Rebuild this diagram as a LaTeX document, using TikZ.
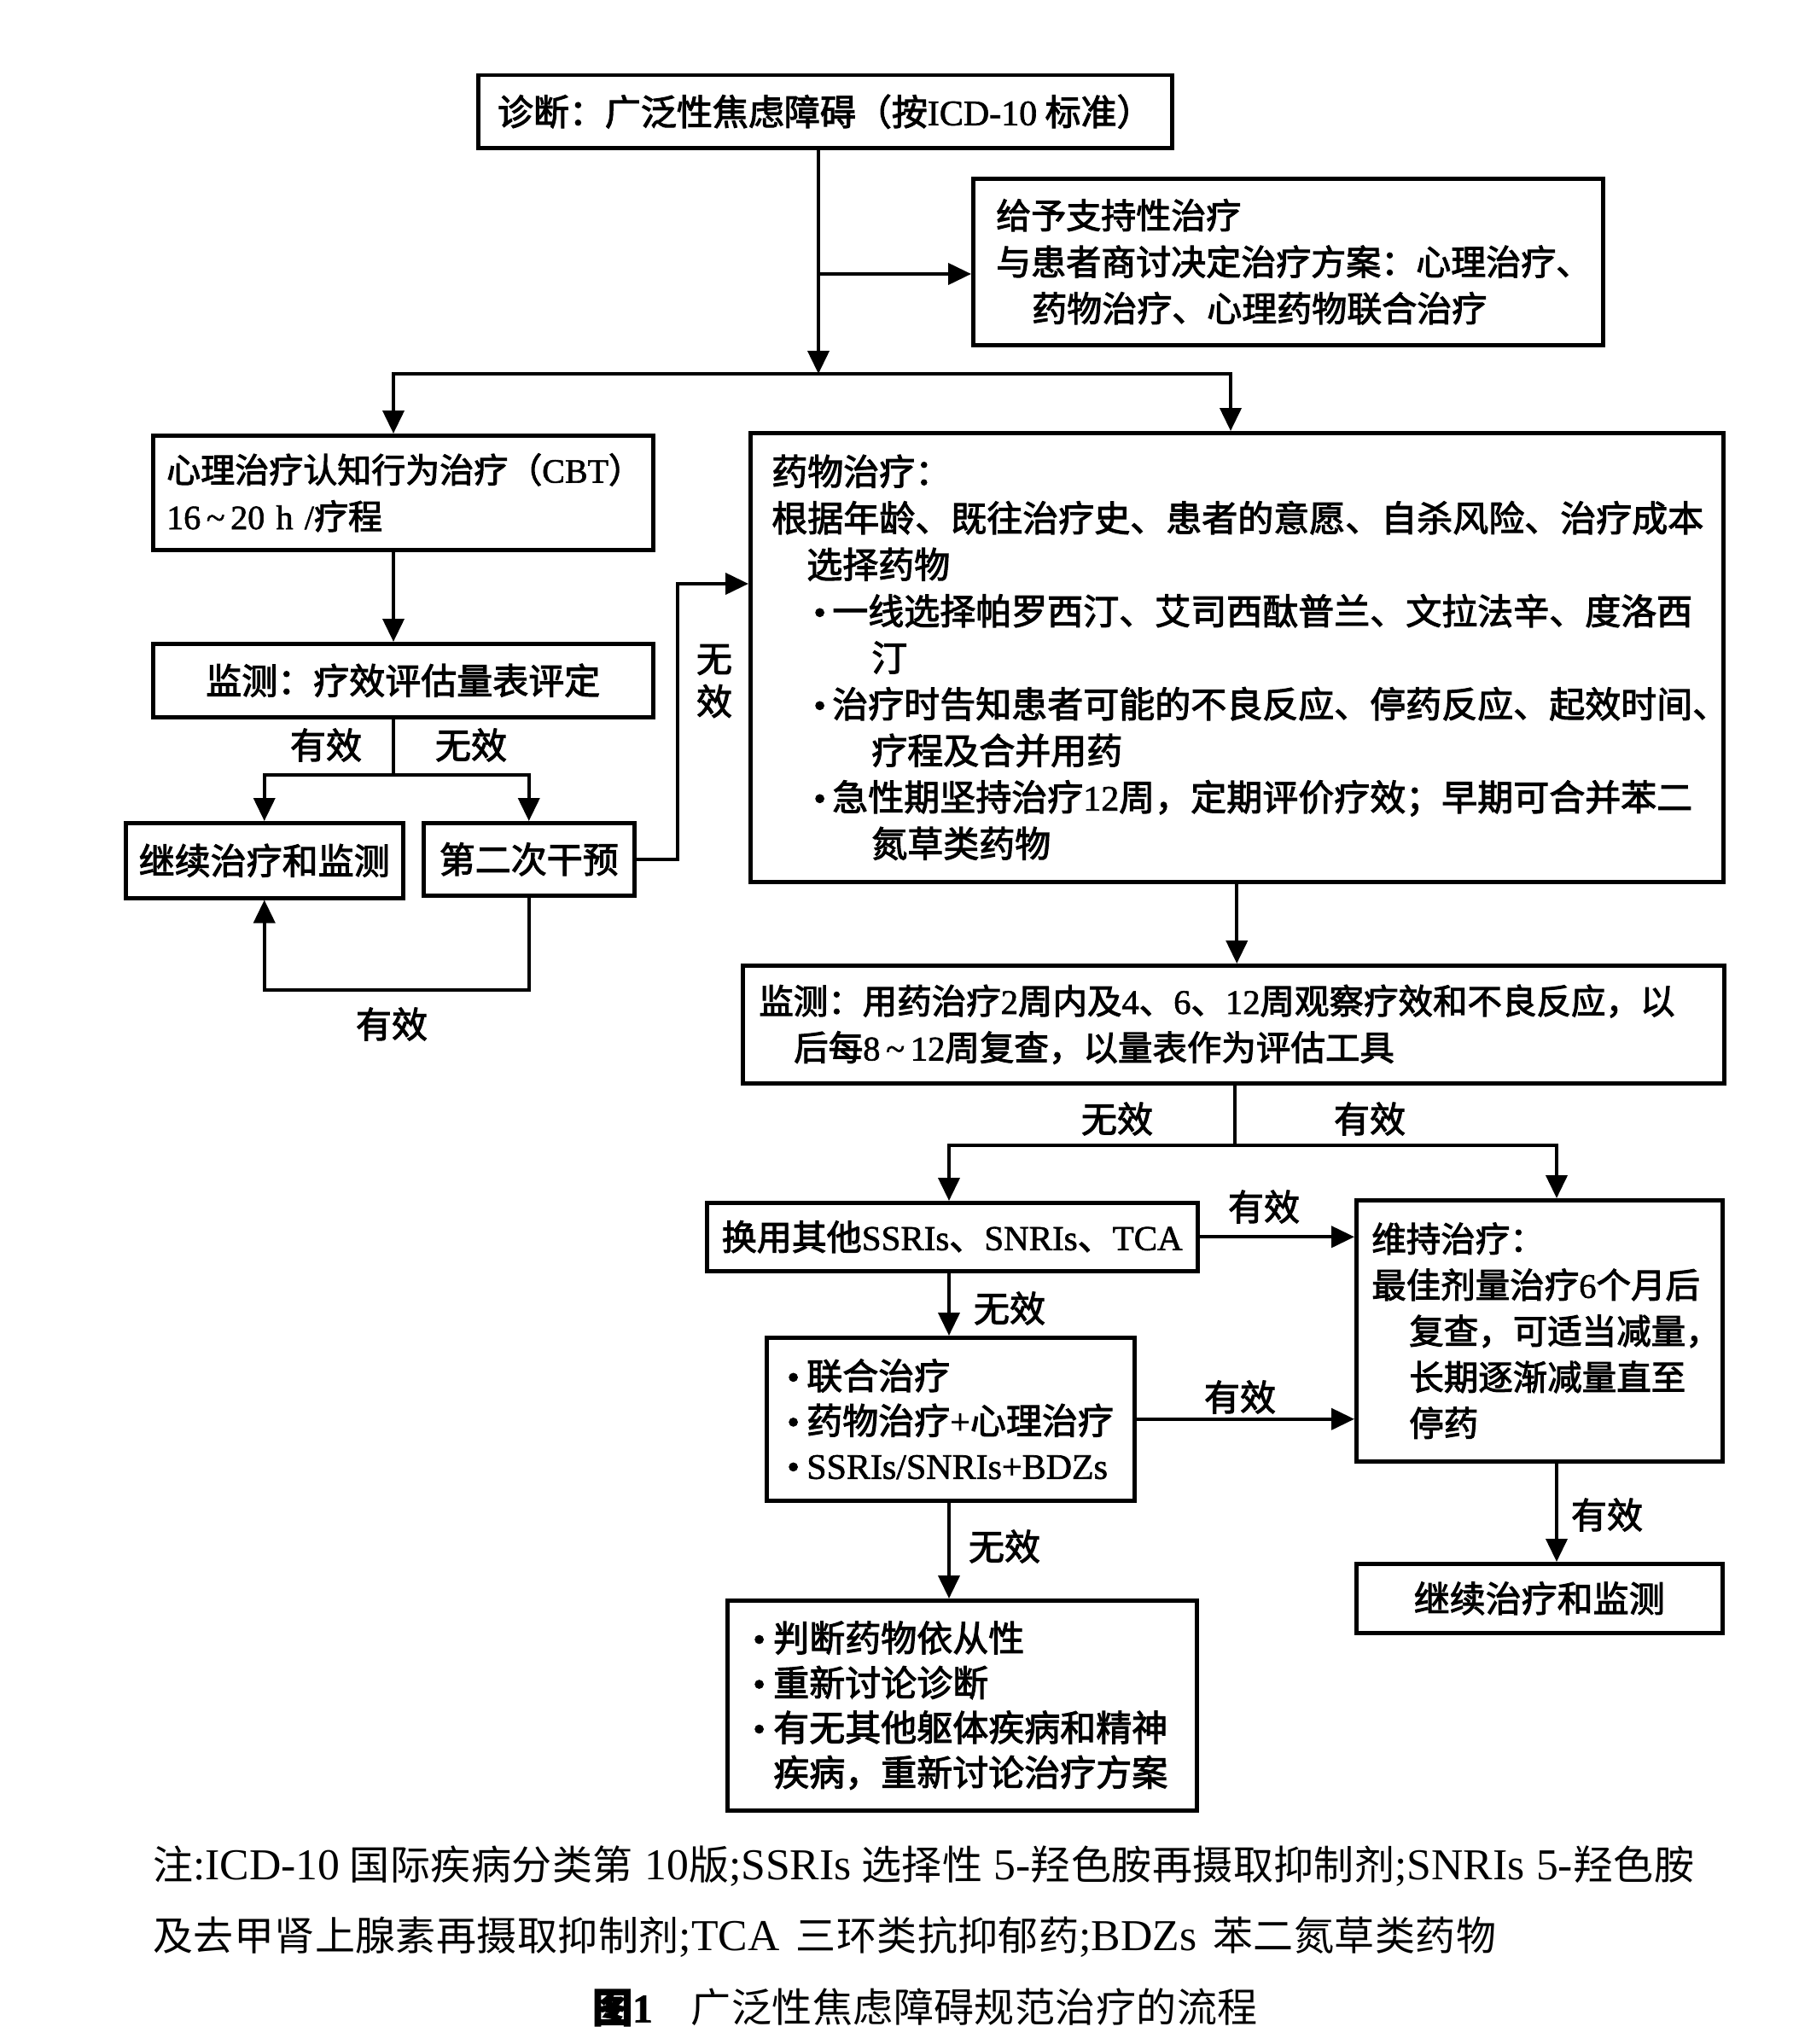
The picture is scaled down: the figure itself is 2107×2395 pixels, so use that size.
\documentclass[tikz,border=0pt]{standalone}
\usepackage{fontspec}
\setmainfont{Noto Sans CJK SC}[FakeBold=2.5]
\newfontfamily\notefont{Noto Sans CJK SC}[LetterSpace=1]
\newfontfamily\lat{Liberation Serif}[FakeBold=1.5]
\newfontfamily\latn{Liberation Serif}[Scale=1.1]
\usetikzlibrary{arrows.meta}
\newcommand{\mfs}{\fontsize{42pt}{54.5pt}\selectfont}
\newcommand{\nfs}{\fontsize{47pt}{60pt}\selectfont}
\newcommand{\bul}[1]{\makebox[#1][l]{\lat •}}
\newcommand{\tld}{\,\char"007E\,}
\begin{document}
\begin{tikzpicture}[x=1pt,y=-1pt,
  box/.style={draw, line width=4.5pt, inner ysep=0pt, anchor=north west, font=\mfs},
  conn/.style={line width=4pt, line cap=rect},
  arr/.style={conn, -{Triangle[length=27pt,width=25pt]}},
  lab/.style={inner sep=0pt, font=\mfs}]
\useasboundingbox[fill=white] (0,0) rectangle (2107,2395);

% boxes
\node[box, minimum width=813pt, minimum height=85pt, align=center] (diag) at (558,86)
  {诊断：广泛性焦虑障碍（按{\lat ICD-10} 标准）};
\node[box, inner xsep=27pt, text width=684pt, minimum height=195pt, align=left,
  font=\fontsize{41pt}{54.5pt}\selectfont] (sup) at (1138,207)
  {给予支持性治疗\\与患者商讨决定治疗方案：心理治疗、\\\hspace*{42pt}药物治疗、心理药物联合治疗};
\node[box, inner xsep=16pt, text width=554pt, minimum height=134pt, align=left,
  font=\fontsize{40pt}{54.5pt}\selectfont] (cbt) at (177,508)
  {心理治疗认知行为治疗（{\lat CBT}）\\{\lat 16\tld 20 h /}疗程};
\node[box, minimum width=586pt, minimum height=86pt, align=center] (mon1) at (177,752)
  {监测：疗效评估量表评定};
\node[box, minimum width=325pt, minimum height=88pt, align=center] (cont1) at (145,962)
  {继续治疗和监测};
\node[box, minimum width=247pt, minimum height=85pt, align=center] (second) at (494,962)
  {第二次干预};
\node[box, inner xsep=25pt, text width=1090pt, minimum height=526pt, align=left] (drug) at (877,505)
  {药物治疗：\\
   根据年龄、既往治疗史、患者的意愿、自杀风险、治疗成本\\
   \hspace*{41pt}选择药物\\
   \hspace*{49pt}\bul{22pt}一线选择帕罗西汀、艾司西酞普兰、文拉法辛、度洛西\\
   \hspace*{117pt}汀\\
   \hspace*{49pt}\bul{22pt}治疗时告知患者可能的不良反应、停药反应、起效时间、\\
   \hspace*{117pt}疗程及合并用药\\
   \hspace*{49pt}\bul{22pt}急性期坚持治疗{\lat 12}周，定期评价疗效；早期可合并苯二\\
   \hspace*{117pt}氮草类药物};
\node[box, inner xsep=19pt, text width=1112pt, minimum height=138pt, align=left,
  font=\fontsize{40.5pt}{54.5pt}\selectfont] (mon2) at (868,1129)
  {监测：用药治疗{\lat 2}周内及{\lat 4}、{\lat 6}、{\lat 12}周观察疗效和不良反应，以\\
   \hspace*{41pt}后每{\lat 8\tld 12}周复查，以量表作为评估工具};
\node[box, minimum width=575pt, minimum height=80pt, align=center,
  font=\fontsize{41pt}{54.5pt}\selectfont] (swap) at (826,1407)
  {换用其他{\lat SSRIs}、{\lat SNRIs}、{\lat TCA}};
\node[box, inner xsep=18pt, text width=393pt, minimum height=306pt, align=left,
  font=\fontsize{40.5pt}{54pt}\selectfont] (maint) at (1587,1404)
  {维持治疗：\\最佳剂量治疗{\lat 6}个月后\\\hspace*{44pt}复查，可适当减量，\\
   \hspace*{44pt}长期逐渐减量直至\\\hspace*{44pt}停药};
\node[box, inner xsep=24pt, text width=383pt, minimum height=191pt, align=left,
  font=\fontsize{42pt}{52.5pt}\selectfont] (combo) at (896,1565)
  {\bul{23pt}联合治疗\\\bul{23pt}药物治疗{\lat +}心理治疗\\\bul{23pt}{\lat SSRIs/SNRIs+BDZs}};
\node[box, inner xsep=30pt, text width=490pt, minimum height=246pt, align=left,
  font=\fontsize{42pt}{52.5pt}\selectfont] (judge) at (850,1873)
  {\bul{24pt}判断药物依从性\\\bul{24pt}重新讨论诊断\\\bul{24pt}有无其他躯体疾病和精神\\
   \hspace*{24pt}疾病，重新讨论治疗方案};
\node[box, minimum width=429pt, minimum height=81pt, align=center] (cont2) at (1587,1830)
  {继续治疗和监测};

% labels
\node[lab] (l1) at (382,873) {有效};
\node[lab] (l2) at (552,873) {无效};
\node[lab, align=center, font=\fontsize{42pt}{50pt}\selectfont] (l3) at (837,798) {无\\效};
\node[lab] (l4) at (459,1200) {有效};
\node[lab] (l5) at (1309,1311) {无效};
\node[lab] (l6) at (1605,1311) {有效};
\node[lab] (l7) at (1481,1414) {有效};
\node[lab] (l8) at (1183,1533) {无效};
\node[lab] (l9) at (1453,1637) {有效};
\node[lab] (l10) at (1177,1812) {无效};
\node[lab] (l11) at (1883,1775) {有效};

% connectors
\coordinate (tr) at (959,438);
\coordinate (bt) at (959,321);
\coordinate (jl) at (461,438);
\coordinate (jr) at (1442,438);
\draw[arr] (tr |- diag.south) -- (tr);
\draw[arr] (bt) -- (bt -| sup.west);
\draw[conn] (jl) -- (jr);
\draw[arr] (jl) -- (jl |- cbt.north);
\draw[arr] (jr) -- (jr |- drug.north);

\draw[arr] (jl |- cbt.south) -- (jl |- mon1.north);
\coordinate (k) at (461,908);
\draw[conn] (jl |- mon1.south) -- (k);
\draw[arr] (k) -- (k -| cont1.north) -- (cont1.north);
\draw[arr] (k) -- (k -| second.north) -- (second.north);

\coordinate (m) at (794,684);
\draw[arr] (second.east) -- (second.east -| m) -- (m) -- (m -| drug.west);
\coordinate (lp) at (0,1160);
\draw[arr] (second.south) -- (second.south |- lp) -- (cont1.south |- lp) -- (cont1.south);

\draw[arr] (drug.south) -- (drug.south |- mon2.north);
\coordinate (n) at (1447,1342);
\coordinate (nl) at (1112,1342);
\coordinate (nr) at (1824,1342);
\draw[conn] (n |- mon2.south) -- (n);
\draw[arr] (n) -- (nl) -- (nl |- swap.north);
\draw[arr] (n) -- (nr) -- (nr |- maint.north);
\draw[arr] (swap.east) -- (swap.east -| maint.west);
\draw[arr] (nl |- swap.south) -- (nl |- combo.north);
\draw[arr] (combo.east) -- (combo.east -| maint.west);
\draw[arr] (nl |- combo.south) -- (nl |- judge.north);
\draw[arr] (nr |- maint.south) -- (nr |- cont2.north);

% notes and caption
\node[inner sep=0pt, anchor=west, font=\nfs\notefont] (note1) at (179,2187)
  {\hbox to 1806pt{注{\latn :ICD-10} 国际疾病分类第{\latn\ 10}版{\latn ;SSRIs} 选择性{\latn\ 5-}羟色胺再摄取抑制剂{\latn ;SNRIs 5-}羟色胺}};
\node[inner sep=0pt, anchor=west, font=\nfs\notefont] (note2) at (179,2269)
  {\hbox to 1574pt{及去甲肾上腺素再摄取抑制剂{\latn ;TCA} 三环类抗抑郁药{\latn ;BDZs} 苯二氮草类药物}};
\node[inner sep=0pt, font=\nfs] (cap) at (1084,2352)
  {{\bfseries 图{\lat 1}}\hspace{45pt}{\notefont 广泛性焦虑障碍规范治疗的流程}};
\end{tikzpicture}
\end{document}
